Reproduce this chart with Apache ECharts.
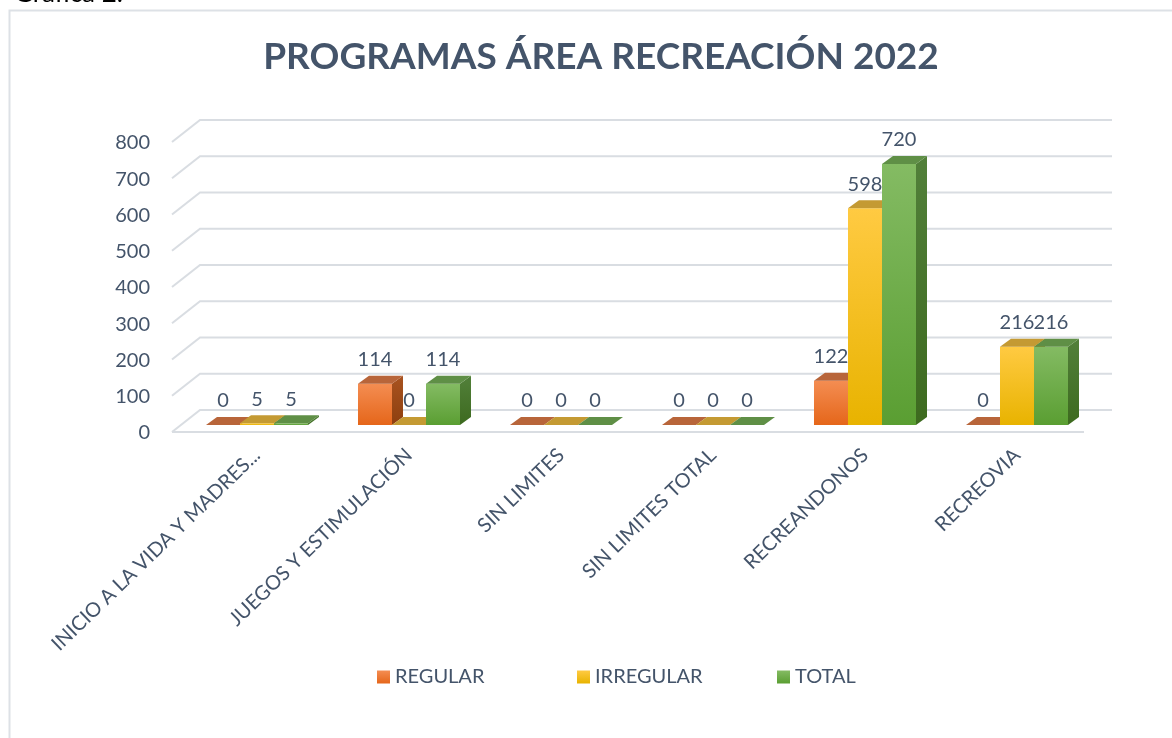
<!DOCTYPE html>
<html>
<head>
<meta charset="utf-8">
<script src="https://cdn.jsdelivr.net/npm/echarts@6/dist/echarts.min.js"></script>
<style>
html,body{margin:0;padding:0;background:#fff;}
#chart{width:1172px;height:738px;}
</style>
</head>
<body>
<div id="chart"></div>
<script>
var categories = ["INICIO A LA VIDA Y MADRES...", "JUEGOS Y ESTIMULACIÓN", "SIN LIMITES", "SIN LIMITES TOTAL", "RECREANDONOS", "RECREOVIA"];
var regular = [0, 114, 0, 0, 122, 0];
var irregular = [5, 0, 0, 0, 598, 216];
var total = [5, 114, 0, 0, 720, 216];
var yTicks = [0, 100, 200, 300, 400, 500, 600, 700, 800];
var seriesNames = ["REGULAR", "IRREGULAR", "TOTAL"];

var FONT = "Lato, 'Open Sans', sans-serif";
var TXT = "#44546a";
var DX = 11, DY = -8;

function grad(c1, c2) {
  return new echarts.graphic.LinearGradient(0, 0, 0, 1, [{offset: 0, color: c1}, {offset: 1, color: c2}]);
}
var palettes = [
  {front: ["#f48d52", "#e5661a"], top: "#b8653a", side: ["#a85320", "#8e3f0f"], legend: grad("#f48d52", "#e5661a")},
  {front: ["#ffca42", "#e8b300"], top: "#c49a33", side: ["#b88d0e", "#a07800"], legend: grad("#ffca42", "#e8b300")},
  {front: ["#84bb63", "#5a9e32"], top: "#5f8f46", side: ["#52803a", "#3d6a1f"], legend: grad("#84bb63", "#5a9e32")}
];

function makeBarRender(offset, pal) {
  return function (params, api) {
    var cat = api.value(0), v = api.value(1);
    var p = api.coord([cat, v]);
    var p0 = api.coord([cat, 0]);
    var band = api.size([1, 0])[0];
    var w = band * 0.2237;
    var cx = p[0] + offset * w;
    var x0 = cx - w / 2, x1 = cx + w / 2, yt = p[1], yb = p0[1];
    var children = [];
    if (yb - yt > 0.5) {
      children.push({type: "polygon", shape: {points: [[x1, yt], [x1 + DX, yt + DY], [x1 + DX, yb + DY], [x1, yb]]},
        style: {fill: grad(pal.side[0], pal.side[1])}});
      children.push({type: "rect", shape: {x: x0, y: yt, width: w, height: yb - yt},
        style: {fill: grad(pal.front[0], pal.front[1])}});
    }
    children.push({type: "polygon", shape: {points: [[x0, yt], [x0 + DX, yt + DY], [x1 + DX, yt + DY], [x1, yt]]},
      style: {fill: pal.top}});
    children.push({type: "text", x: cx, y: yt - 24, z2: 10,
      style: {text: String(v), fill: TXT, font: "20px " + FONT, align: "center", verticalAlign: "middle"}});
    return {type: "group", children: children};
  };
}

function gridRender(params, api) {
  var v = api.value(1);
  var band = api.size([1, 0])[0];
  var pl = api.coord([0, v]);
  var pr = api.coord([categories.length - 1, v]);
  var xL = pl[0] - band / 2, xR = pr[0] + band / 2, y = pl[1];
  var children = [{type: "polyline", shape: {points: [[xL - 9, y + 7], [xL + 19, y - 15], [xR + 19, y - 15]]},
    style: {stroke: "#d9dde2", lineWidth: 2, fill: null}}];
  if (v === 0) {
    children.push({type: "line", shape: {x1: xL - 9, y1: y + 7, x2: xR - 9, y2: y + 7},
      style: {stroke: "#d9dde2", lineWidth: 2}});
  }
  return {type: "group", children: children};
}

var dataSets = [regular, irregular, total];
var series = [{
  type: "custom", name: "grid", silent: true, z: 1,
  renderItem: gridRender,
  encode: {x: 0, y: 1},
  data: yTicks.map(function (t) { return [0, t]; })
}];
dataSets.forEach(function (arr, i) {
  series.push({
    type: "custom", name: seriesNames[i], z: 2 + i,
    renderItem: makeBarRender(i - 1, palettes[i]),
    encode: {x: 0, y: 1},
    itemStyle: {color: palettes[i].legend},
    data: arr.map(function (v, k) { return [k, v]; })
  });
});

var legendLefts = [377, 577, 777];
var legends = seriesNames.map(function (n, i) {
  return {data: [n], left: legendLefts[i], top: 667, padding: 0, itemWidth: 13, itemHeight: 13,
    icon: "rect", selectedMode: false, textStyle: {fontFamily: FONT, fontSize: 20, color: TXT}};
});

var chart = echarts.init(document.getElementById("chart"));
chart.setOption({
  animation: false,
  backgroundColor: "#fff",
  title: {text: "PROGRAMAS ÁREA RECREACIÓN 2022", left: 596, top: 34, textAlign: "center",
    textStyle: {fontFamily: FONT, fontWeight: "bold", fontSize: 37, color: TXT}},
  graphic: [
    {type: "rect", shape: {x: 9.5, y: 10.5, width: 1200, height: 800}, style: {fill: null, stroke: "#dde1e6", lineWidth: 2}, silent: true},
    {type: "text", left: 14, top: -19, style: {text: "Gráfica 2.", font: "26px " + FONT, fill: "#000"}, silent: true}
  ],
  legend: legends,
  grid: [
    {left: 181, right: 79, top: 135, bottom: 313},
    {left: 181, right: 79, top: 143, bottom: 305}
  ],
  xAxis: [
    {type: "category", data: categories, boundaryGap: true, gridIndex: 0,
      axisLine: {show: false}, axisTick: {show: false}, splitLine: {show: false},
      axisLabel: {rotate: 44, margin: 27, interval: 0, fontFamily: FONT, fontSize: 20, color: TXT}},
    {type: "category", data: categories, gridIndex: 1, show: false}
  ],
  yAxis: [
    {type: "value", min: 0, max: 800, interval: 100, gridIndex: 0, show: false,
      axisLine: {show: false}, axisTick: {show: false}, splitLine: {show: false}, axisLabel: {show: false}},
    {type: "value", min: 0, max: 800, interval: 100, gridIndex: 1,
      axisLine: {show: false}, axisTick: {show: false}, splitLine: {show: false},
      axisLabel: {margin: 31, fontFamily: FONT, fontSize: 20, color: TXT}}
  ],
  series: series
});
</script>
</body>
</html>
